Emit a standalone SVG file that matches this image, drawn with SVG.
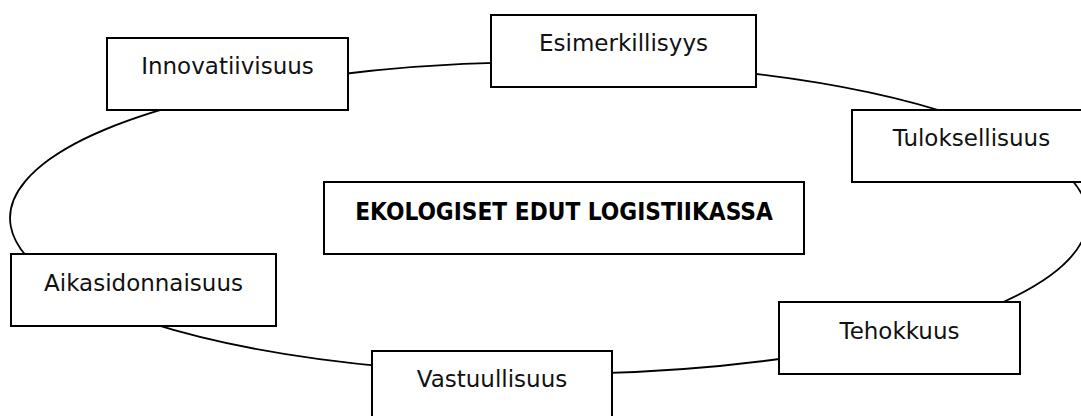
<svg xmlns="http://www.w3.org/2000/svg" width="1081" height="416" viewBox="0 0 1081 416">
<style>
.box{fill:#fff;stroke:#000;stroke-width:2}
.lbl{font-family:"DejaVu Sans",Verdana,sans-serif;font-size:23px;fill:#111;text-anchor:middle}
.ttl{font-family:"DejaVu Sans Condensed","DejaVu Sans",sans-serif;font-stretch:condensed;font-weight:bold;font-size:24.2px;fill:#000;text-anchor:middle}
.con{fill:none;stroke:#000;stroke-width:1.8}
</style>
<rect width="1081" height="416" fill="#fff"/>
<g id="connectors">
<path class="con" d="M330,75.5 A539,156 0 0 1 510,62.4"/>
<path class="con" d="M740,72.1 A539,156 0 0 1 960,117.1"/>
<path class="con" d="M1060,168.4 A539,156 0 0 1 990,307.7"/>
<path class="con" d="M800,356 A539,156 0 0 1 595,373.4"/>
<path class="con" d="M390,367 A539,156 0 0 1 150,322.9"/>
<path class="con" d="M40,269.3 A539,156 0 0 1 180,104.3"/>
</g>
<g id="innovatiivisuus"><rect class="box" x="107" y="38" width="241" height="72"/><text class="lbl" x="227.5" y="74">Innovatiivisuus</text></g>
<g id="esimerkillisyys"><rect class="box" x="491" y="15" width="265" height="72"/><text class="lbl" x="623.5" y="51">Esimerkillisyys</text></g>
<g id="tuloksellisuus"><rect class="box" x="852" y="110" width="239" height="72"/><text class="lbl" x="971.5" y="146">Tuloksellisuus</text></g>
<g id="tehokkuus"><rect class="box" x="779" y="302" width="241" height="72"/><text class="lbl" x="899.5" y="339">Tehokkuus</text></g>
<g id="vastuullisuus"><rect class="box" x="372" y="351" width="240" height="72"/><text class="lbl" x="492" y="387">Vastuullisuus</text></g>
<g id="aikasidonnaisuus"><rect class="box" x="11" y="254" width="265" height="72"/><text class="lbl" x="143.5" y="291">Aikasidonnaisuus</text></g>
<g id="title"><rect class="box" x="324" y="182" width="480" height="72"/><text class="ttl" x="564" y="220">EKOLOGISET EDUT LOGISTIIKASSA</text></g>
</svg>
